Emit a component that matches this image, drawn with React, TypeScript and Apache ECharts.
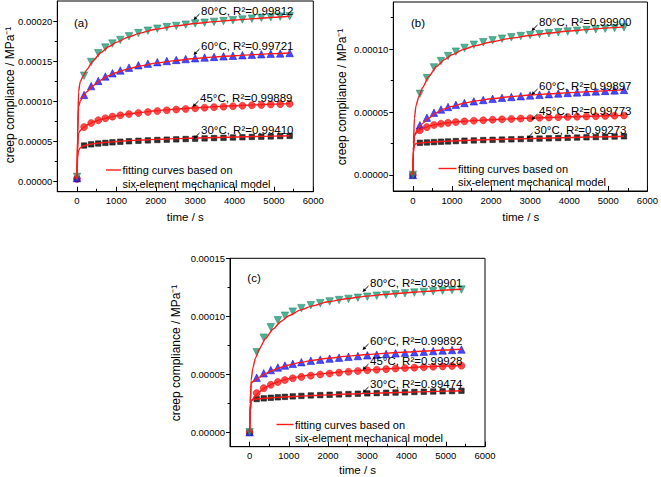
import React, { useEffect, useRef } from "react";
import * as echarts from "echarts";

// time of each measured point (s)
const dataTimes = [0, 180, 360, 540, 720, 900, 1100, 1320, 1560, 1800, 2040, 2280, 2520, 2760, 3000, 3240, 3480, 3720, 3960, 4200, 4440, 4680, 4920, 5160, 5400];
// time of each fitted-curve point (s)
const fitTimes = [0, 15, 40, 80, 150, 250, 400, 600, 800, 1000, 1300, 1600, 2000, 2500, 3000, 3500, 4000, 4500, 5000, 5400];

const temperatures = ["30°C", "45°C", "60°C", "80°C"];

// creep compliance, in units of 1e-6 MPa^-1
// panel (a)
const a30 = [3.5, 45, 46.5, 47.5, 48.3, 49, 49.7, 50.3, 50.9, 51.4, 51.9, 52.3, 52.7, 53.1, 53.5, 53.9, 54.3, 54.6, 55, 55.3, 55.7, 56, 56.3, 56.7, 57];
const a45 = [3.5, 68, 73, 76.5, 79, 81, 82.7, 84.2, 85.6, 86.8, 87.9, 88.9, 89.8, 90.6, 91.4, 92.1, 92.8, 93.4, 94, 94.6, 95.1, 95.6, 96.1, 96.6, 97];
const a60 = [4.5, 108, 119, 125.5, 131, 135, 138.5, 142, 145, 147, 148.8, 150.3, 151.6, 152.7, 153.7, 154.6, 155.4, 156.1, 156.8, 157.5, 158.1, 158.7, 159.2, 159.7, 160.2];
const a80 = [6, 132, 149, 160, 167, 172, 176.5, 181, 185, 188, 190.5, 192.5, 194, 195.5, 197, 198, 199, 200, 201, 202, 203, 204, 204.8, 205.5, 206];
const a30Fit = [3, 30, 39, 42, 44.3, 45.8, 47.2, 48.3, 49.2, 50, 51, 51.8, 52.7, 53.6, 54.3, 55, 55.6, 56.2, 56.7, 57.1];
const a45Fit = [3, 40, 60, 63.5, 67, 70.5, 74, 77.3, 80, 82, 84.3, 86.2, 88.3, 90.4, 92, 93.4, 94.6, 95.6, 96.6, 97.2];
const a60Fit = [4, 55, 93, 100, 106, 112, 119.5, 126.5, 132, 136, 140.5, 144, 147.6, 150.8, 153.4, 155.4, 156.9, 158.2, 159.4, 160.3];
const a80Fit = [5, 60, 112, 124, 131, 139.5, 150, 160.5, 168, 173.5, 180, 185, 189.8, 194, 197, 199.3, 201.3, 203, 204.8, 206];
const r2A = ["0.99410", "0.99889", "0.99721", "0.99812"];

// panel (b)
const b30 = [0, 25.5, 25.8, 26.1, 26.4, 26.6, 26.9, 27.2, 27.4, 27.7, 27.9, 28.1, 28.3, 28.5, 28.7, 28.9, 29.1, 29.3, 29.5, 29.7, 29.9, 30.1, 30.3, 30.5, 30.7];
const b45 = [0, 35.5, 38, 39.7, 40.7, 41.4, 42, 42.6, 43.1, 43.5, 43.9, 44.2, 44.5, 44.8, 45.1, 45.4, 45.6, 45.9, 46.1, 46.3, 46.5, 46.7, 46.9, 47.1, 47.3];
const b60 = [0, 39.5, 45.5, 49.5, 52, 54, 55.7, 57.2, 58.5, 59.6, 60.5, 61.3, 62, 62.6, 63.2, 63.7, 64.2, 64.7, 65.2, 65.6, 66, 66.4, 66.8, 67.2, 67.6];
const b80 = [0, 64.5, 77, 85.5, 90.5, 94.5, 98, 101, 103.5, 105.5, 107, 108.3, 109.4, 110.4, 111.2, 112, 112.7, 113.4, 114, 114.6, 115.2, 115.8, 116.3, 116.8, 117.3];
const b30Fit = [0, 18, 24, 24.8, 25.3, 25.6, 26, 26.4, 26.7, 27, 27.4, 27.7, 28.1, 28.6, 29, 29.4, 29.8, 30.1, 30.4, 30.7];
const b45Fit = [0, 20, 31, 33, 35, 37, 38.8, 40.2, 41.2, 41.9, 42.7, 43.3, 43.9, 44.6, 45.2, 45.7, 46.2, 46.6, 47, 47.3];
const b60Fit = [0, 20, 32, 34, 37, 41, 45, 49.5, 52.5, 54.5, 57, 58.8, 60.6, 62.2, 63.5, 64.5, 65.4, 66.2, 67, 67.6];
const b80Fit = [0, 25, 45, 55, 62, 69.5, 78, 86, 91.5, 95.5, 99.8, 102.8, 105.7, 108.6, 110.9, 112.8, 114.4, 115.7, 116.9, 117.7];
const r2B = ["0.99273", "0.99773", "0.99897", "0.99900"];

// panel (c)
const c30 = [0, 28.6, 29.2, 29.7, 30.1, 30.5, 30.9, 31.3, 31.7, 32, 32.3, 32.6, 32.9, 33.2, 33.5, 33.7, 34, 34.2, 34.4, 34.7, 34.9, 35.1, 35.3, 35.5, 35.7];
const c45 = [0, 33.7, 38, 40.9, 43.3, 45, 46.5, 47.7, 48.8, 49.8, 50.6, 51.4, 52.1, 52.8, 53.4, 53.9, 54.4, 54.9, 55.3, 55.7, 56.1, 56.5, 56.8, 57.1, 57.4];
const c60 = [0, 47, 50.8, 53.6, 55.8, 57.5, 59, 60.4, 61.6, 62.6, 63.5, 64.3, 65, 65.7, 66.3, 66.9, 67.5, 68, 68.5, 69, 69.5, 70, 70.5, 70.9, 71.3];
const c80 = [0, 69, 81.5, 90.5, 96.5, 100.5, 104, 107, 109.5, 111.3, 112.8, 114, 115, 116, 116.9, 117.7, 118.4, 119.1, 119.8, 120.4, 121, 121.6, 122.1, 122.6, 123.1];
const c30Fit = [0, 18, 27, 28, 28.5, 28.9, 29.3, 29.8, 30.2, 30.6, 31.1, 31.6, 32.2, 32.9, 33.5, 34, 34.5, 35, 35.4, 35.7];
const c45Fit = [0, 18, 27, 28.5, 31.5, 35, 38.5, 42, 44.5, 46.2, 48.2, 49.6, 51, 52.5, 53.7, 54.7, 55.6, 56.4, 57.1, 57.6];
const c60Fit = [0, 25, 42, 43.5, 45, 47.5, 50.5, 53.5, 56, 58, 60.2, 62, 63.8, 65.6, 67, 68.2, 69.2, 70.1, 70.9, 71.5];
const c80Fit = [0, 25, 45, 55, 64, 72, 80.5, 89, 95.5, 100.5, 105.5, 109, 112.5, 115.3, 117.4, 119, 120.3, 121.5, 122.6, 123.3];
const r2C = ["0.99474", "0.99928", "0.99892", "0.99901"];

// axis ticks
const xMajorTicks = [0, 1000, 2000, 3000, 4000, 5000, 6000];
const xMinorTicks = [-500, 500, 1500, 2500, 3500, 4500, 5500];
const yMajorA = [0, 50e-6, 100e-6, 150e-6, 200e-6];
const yMinorA = [25e-6, 75e-6, 125e-6, 175e-6];
const yMajorB = [0, 50e-6, 100e-6];
const yMinorB = [25e-6, 75e-6, 125e-6];
const yMajorC = [0, 50e-6, 100e-6, 150e-6];
const yMinorC = [25e-6, 75e-6, 125e-6];

const panelLabels = ["(a)", "(b)", "(c)"];
const xTitle = "time / s";
const yTitle = "creep compliance / MPa⁻¹";
const legendLine1 = "fitting curves based on";
const legendLine2 = "six-element mechanical model";

const FONT = "'Liberation Sans', Arial, Helvetica, sans-serif";
const SCALE = 1e-6;

const markerStyles = [
  { symbol: "rect", size: 5.5, rotate: 0, color: "#000000", border: "#000000" },
  { symbol: "circle", size: 7, rotate: 0, color: "#ff1a1a", border: "#e00000" },
  { symbol: "triangle", size: 7.5, rotate: 0, color: "#1a1aff", border: "#0000c8" },
  { symbol: "triangle", size: 7.5, rotate: 180, color: "#22a07a", border: "#137a5a" },
];

// layout of each panel (pixels)
const panels = [
  {
    grid: { left: 57.3, top: 1, width: 256, height: 190.7 },
    yMin: -12.5e-6, yMax: 225e-6, yMajor: yMajorA, yMinor: yMinorA,
    data: [a30, a45, a60, a80], fits: [a30Fit, a45Fit, a60Fit, a80Fit], r2: r2A,
    labelPos: { x: 81, y: 23 },
    annoX: [201, 200, 201, 201], annoY: [130, 98, 46, 11],
    legend: { x1: 106, x2: 121, y: 170 },
    yTitlePos: { x: 10, y: 95 }, xTitlePos: { x: 185.3, y: 217 },
  },
  {
    grid: { left: 393.3, top: 2, width: 255, height: 189 },
    yMin: -12.8e-6, yMax: 137.5e-6, yMajor: yMajorB, yMinor: yMinorB,
    data: [b30, b45, b60, b80], fits: [b30Fit, b45Fit, b60Fit, b80Fit], r2: r2B,
    labelPos: { x: 418, y: 23 },
    annoX: [534, 539, 539, 539], annoY: [130, 111, 86, 22],
    legend: { x1: 438.5, x2: 456.5, y: 168.5 },
    yTitlePos: { x: 342, y: 97 }, xTitlePos: { x: 520.8, y: 217 },
  },
  {
    grid: { left: 230, top: 258.3, width: 255, height: 188.4 },
    yMin: -12.5e-6, yMax: 150e-6, yMajor: yMajorC, yMinor: yMinorC,
    data: [c30, c45, c60, c80], fits: [c30Fit, c45Fit, c60Fit, c80Fit], r2: r2C,
    labelPos: { x: 254, y: 278 },
    annoX: [370, 370, 370, 370], annoY: [384, 361, 341, 283],
    legend: { x1: 276.5, x2: 293.5, y: 424.5 },
    yTitlePos: { x: 176, y: 353 }, xTitlePos: { x: 357.5, y: 470 },
  },
];

function textEl(text: string, x: number, y: number, size: number, align = "left", rotation = 0) {
  return {
    type: "text",
    x,
    y,
    rotation,
    z: 100,
    style: {
      text,
      fill: "#000",
      font: `${size}px ${FONT}`,
      fontSize: size,
      fontFamily: FONT,
      align,
      verticalAlign: "middle",
      textAlign: align,
      textVerticalAlign: "middle",
    },
  };
}

function arrowEls(x1: number, y1: number, x2: number, y2: number) {
  const ang = Math.atan2(y2 - y1, x2 - x1);
  const L = 3.6;
  const W = 1.8;
  const bx = x2 - L * Math.cos(ang);
  const by = y2 - L * Math.sin(ang);
  const nx = -Math.sin(ang);
  const ny = Math.cos(ang);
  return [
    {
      type: "line",
      z: 100,
      shape: { x1, y1, x2: bx, y2: by },
      style: { stroke: "#000", lineWidth: 1 },
    },
    {
      type: "polygon",
      z: 100,
      shape: { points: [[x2, y2], [bx + W * nx, by + W * ny], [bx - W * nx, by - W * ny]] },
      style: { fill: "#000" },
    },
  ];
}

function buildOption() {
  const grids: any[] = [];
  const xAxes: any[] = [];
  const yAxes: any[] = [];
  const series: any[] = [];
  const graphics: any[] = [];

  panels.forEach((p, pi) => {
    grids.push({
      ...p.grid,
      show: true,
      borderColor: "#000",
      borderWidth: 1,
      backgroundColor: "transparent",
      containLabel: false,
    });
    const axisLine = { show: true, onZero: false, lineStyle: { color: "#000", width: 1 } };
    xAxes.push({
      type: "value",
      gridIndex: pi,
      position: "bottom",
      min: -500,
      max: 6000,
      axisLine,
      axisTick: { show: true, inside: true, length: 5, customValues: xMajorTicks, lineStyle: { color: "#000" } },
      axisLabel: {
        show: true,
        customValues: xMajorTicks,
        margin: 4,
        fontSize: 9.5,
        fontFamily: FONT,
        color: "#000",
        formatter: (v: number) => String(Math.round(v)),
      },
      splitLine: { show: false },
    });
    xAxes.push({
      type: "value",
      gridIndex: pi,
      position: "bottom",
      min: -500,
      max: 6000,
      axisLine: { show: false, onZero: false },
      axisTick: { show: true, inside: true, length: 3, customValues: xMinorTicks, lineStyle: { color: "#000" } },
      axisLabel: { show: false },
      splitLine: { show: false },
    });
    yAxes.push({
      type: "value",
      gridIndex: pi,
      position: "left",
      min: p.yMin,
      max: p.yMax,
      axisLine,
      axisTick: { show: true, inside: false, length: 4, customValues: p.yMajor, lineStyle: { color: "#000" } },
      axisLabel: {
        show: true,
        customValues: p.yMajor,
        margin: 5,
        fontSize: 9.5,
        fontFamily: FONT,
        color: "#000",
        formatter: (v: number) => v.toFixed(5),
      },
      splitLine: { show: false },
    });
    yAxes.push({
      type: "value",
      gridIndex: pi,
      position: "left",
      min: p.yMin,
      max: p.yMax,
      axisLine: { show: false, onZero: false },
      axisTick: { show: true, inside: false, length: 2.5, customValues: p.yMinor, lineStyle: { color: "#000" } },
      axisLabel: { show: false },
      splitLine: { show: false },
    });

    const xi = pi * 2;
    const yi = pi * 2;
    p.data.forEach((vals, si) => {
      const m = markerStyles[si];
      series.push({
        type: "scatter",
        name: `${panelLabels[pi]} ${temperatures[si]}`,
        xAxisIndex: xi,
        yAxisIndex: yi,
        data: dataTimes.map((t, k) => [t, vals[k] * SCALE]),
        symbol: m.symbol,
        symbolSize: m.size,
        symbolRotate: m.rotate,
        itemStyle: { color: m.color, borderColor: m.border, borderWidth: 0.6 },
        z: 2,
      });
    });
    p.fits.forEach((vals, si) => {
      series.push({
        type: "line",
        name: `${panelLabels[pi]} fit ${temperatures[si]}`,
        xAxisIndex: xi,
        yAxisIndex: yi,
        data: fitTimes.map((t, k) => [t, vals[k] * SCALE]),
        showSymbol: false,
        symbol: "none",
        smooth: 0.2,
        smoothMonotone: "x",
        lineStyle: { color: "#ff1a1a", width: 1.4 },
        z: 3,
      });
    });

    graphics.push(textEl(panelLabels[pi], p.labelPos.x, p.labelPos.y, 11.5, "center"));
    graphics.push(textEl(yTitle, p.yTitlePos.x, p.yTitlePos.y, 12, "center", Math.PI / 2));
    graphics.push(textEl(xTitle, p.xTitlePos.x, p.xTitlePos.y, 11.5, "center"));
    temperatures.forEach((tmp, si) => {
      const ax = p.annoX[si];
      const ay = p.annoY[si];
      graphics.push(textEl(`${tmp}, R²=${p.r2[si]}`, ax, ay, 11.5, "left"));
      graphics.push(...arrowEls(ax - 1.5, ay + 3, ax - 7.5, ay + 9));
    });
    graphics.push({
      type: "line",
      z: 100,
      shape: { x1: p.legend.x1, y1: p.legend.y, x2: p.legend.x2, y2: p.legend.y },
      style: { stroke: "#ff1a1a", lineWidth: 1.4 },
    });
    graphics.push(textEl(legendLine1, p.legend.x2 + 1.5, p.legend.y, 11, "left"));
    graphics.push(textEl(legendLine2, p.legend.x2 + 1.5, p.legend.y + 13.5, 11, "left"));
  });

  return {
    animation: false,
    backgroundColor: "#ffffff",
    textStyle: { fontFamily: FONT },
    grid: grids,
    xAxis: xAxes,
    yAxis: yAxes,
    series,
    graphic: { elements: graphics },
  };
}

export default function App() {
  const ref = useRef<HTMLDivElement>(null);
  useEffect(() => {
    if (!ref.current) return;
    const chart = echarts.init(ref.current, undefined, { renderer: "svg" });
    chart.setOption(buildOption() as any);
    return () => {
      chart.dispose();
    };
  }, []);
  return (
    <div
      ref={ref}
      style={{ position: "fixed", left: 0, top: 0, width: 661, height: 477, background: "#fff" }}
    />
  );
}
